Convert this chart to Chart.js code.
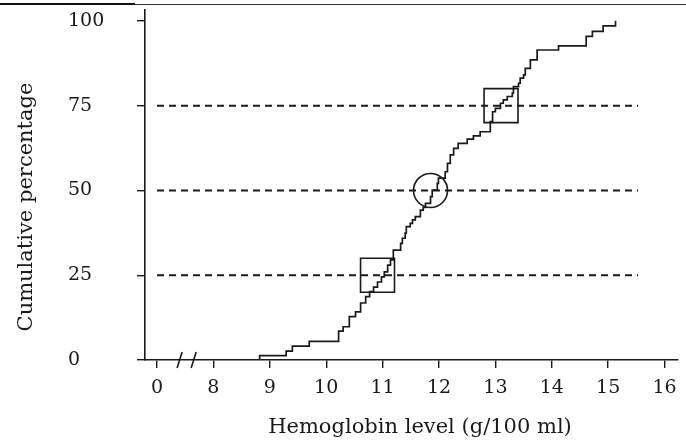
<!DOCTYPE html>
<html>
<head>
<meta charset="utf-8">
<script src="https://cdn.jsdelivr.net/npm/chart.js@4.4.1/dist/chart.umd.min.js"></script>
<style>
    body { margin: 0; background: #fff; }
    #wrap { position: relative; width: 686px; height: 444px; }
    .rule-a { position: absolute; left: 0; top: 3px; width: 135px; height: 2px; background: #111; }
    .rule-b { position: absolute; left: 135px; top: 4px; width: 551px; height: 1px; background: #333; }
</style>
</head>
<body>
<div id="wrap">
    <div class="rule-a"></div>
    <div class="rule-b"></div>
    <canvas id="hbChart" width="686" height="444"></canvas>
</div>
<script>

// hemoglobin value (g/100 ml) at each step and cumulative % after it
const hbLevels = [8.82, 8.82, 9.29, 9.40, 9.70, 10.22, 10.30, 10.41, 10.52, 10.61,
    10.70, 10.77, 10.84, 10.91, 10.98, 11.03, 11.09, 11.14, 11.19, 11.32,
    11.35, 11.40, 11.42, 11.49, 11.53, 11.58, 11.67, 11.72, 11.76, 11.85,
    11.88, 11.97, 11.99, 12.11, 12.15, 12.20, 12.26, 12.34, 12.50, 12.61,
    12.73, 12.91, 12.95, 13.00, 13.09, 13.14, 13.21, 13.30, 13.32, 13.41,
    13.44, 13.50, 13.53, 13.62, 13.74, 14.12, 14.61, 14.72, 14.91, 15.13];

const cumPct = [0, 1.3, 2.6, 4.1, 5.5, 8.5, 9.8, 12.8, 14.2, 16.8,
    18.7, 20.2, 21.5, 23.0, 24.5, 26.0, 28.0, 29.5, 32.4, 34.4,
    35.9, 37.4, 39.3, 40.3, 41.3, 42.3, 44.2, 45.0, 46.2, 48.2,
    50.1, 52.1, 53.6, 55.5, 58.0, 60.5, 62.4, 63.9, 65.1, 66.1,
    67.3, 70.3, 73.2, 74.2, 75.7, 76.7, 77.7, 78.7, 80.6, 81.6,
    83.1, 84.1, 86.0, 88.5, 91.4, 92.6, 95.4, 96.9, 98.5, 100];

// quartiles: box, circle (median), box
const quartileHb = [10.91, 11.85, 13.10];
const quartilePct = [25, 50, 75];
const quartileShape = ["rect", "circle", "rect"];

// dashed reference lines
const refLevels = [25, 50, 75];
const refFrom = 0;
const refTo = 15.53;

const xTickLabels = ["0", "8", "9", "10", "11", "12", "13", "14", "15", "16"];
const yTicks = [0, 25, 50, 75, 100];

const xTitle = "Hemoglobin level (g/100 ml)";
const yTitle = "Cumulative percentage";

// axis is broken between 0 and 8
function toAxis(v) {
    return v < 8 ? v : v - 7;
}

const ink = "#1a1a1a";
const serif = "'DejaVu Serif', serif";

const stepData = hbLevels.map((v, i) => ({ x: toAxis(v), y: cumPct[i] }));

const refSets = refLevels.map(level => ({
    data: [{ x: toAxis(refFrom), y: level }, { x: toAxis(refTo), y: level }],
    borderColor: ink,
    borderWidth: 2,
    borderDash: [7, 5],
    pointRadius: 0
}));

function noEdgePadding(scale) {
    scale.paddingLeft = 0;
    scale.paddingRight = 0;
    scale.paddingTop = 0;
    scale.paddingBottom = 0;
}

const extras = {
    id: "extras",
    afterDraw(chart) {
        const ctx = chart.ctx;
        const xs = chart.scales.x;
        const bottom = chart.chartArea.bottom;

        ctx.save();
        ctx.strokeStyle = ink;
        ctx.lineWidth = 1.6;
        [0.4, 0.65].forEach(p => {
            const px = xs.getPixelForValue(p);
            ctx.beginPath();
            ctx.moveTo(px - 2.5, bottom + 8);
            ctx.lineTo(px + 2.5, bottom - 8);
            ctx.stroke();
        });

        ctx.fillStyle = ink;
        ctx.font = "21px " + serif;
        ctx.textAlign = "center";
        ctx.textBaseline = "middle";
        ctx.fillText(xTitle, 420, 428);

        ctx.translate(27, 207);
        ctx.rotate(-Math.PI / 2);
        ctx.fillText(yTitle, 0, 0);
        ctx.restore();
    }
};

new Chart(document.getElementById("hbChart"), {

    type: "line",

    data: {
        datasets: [
            {
                data: stepData,
                stepped: "before",
                borderColor: ink,
                borderWidth: 1.7,
                pointRadius: 0,
                fill: false
            },
            ...refSets,
            {
                type: "scatter",
                data: quartileHb.map((v, i) => ({ x: toAxis(v), y: quartilePct[i] })),
                pointStyle: quartileShape,
                pointRadius: [24, 17, 24],
                pointBorderColor: ink,
                pointBorderWidth: 1.6,
                pointBackgroundColor: "rgba(0,0,0,0)"
            }
        ]
    },

    options: {
        responsive: false,
        animation: false,
        layout: {
            autoPadding: false,
            padding: { left: 68, top: 10, right: 8, bottom: 0 }
        },
        plugins: {
            legend: { display: false },
            tooltip: { enabled: false }
        },
        scales: {
            x: {
                type: "linear",
                min: -0.213,
                max: 9.238,
                afterBuildTicks: scale => {
                    scale.ticks = xTickLabels.map((t, i) => ({ value: i }));
                },
                afterFit: scale => {
                    scale.height = 84;
                    noEdgePadding(scale);
                },
                ticks: {
                    callback: (val, i) => xTickLabels[i],
                    color: ink,
                    padding: 9,
                    maxRotation: 0,
                    font: { family: serif, size: 19 }
                },
                grid: {
                    drawOnChartArea: false,
                    tickLength: 8,
                    color: ink,
                    lineWidth: 1.4
                },
                border: { color: ink, width: 1.6 }
            },
            y: {
                min: 0,
                max: 103.2,
                afterBuildTicks: scale => {
                    scale.ticks = yTicks.map(v => ({ value: v }));
                },
                afterFit: scale => {
                    scale.width = 77;
                    noEdgePadding(scale);
                },
                ticks: {
                    crossAlign: "far",
                    color: ink,
                    font: { family: serif, size: 19 }
                },
                grid: {
                    drawOnChartArea: false,
                    tickLength: 8,
                    color: ink,
                    lineWidth: 1.4
                },
                border: { color: ink, width: 1.6 }
            }
        }
    },

    plugins: [extras]

});

</script>
</body>
</html>
